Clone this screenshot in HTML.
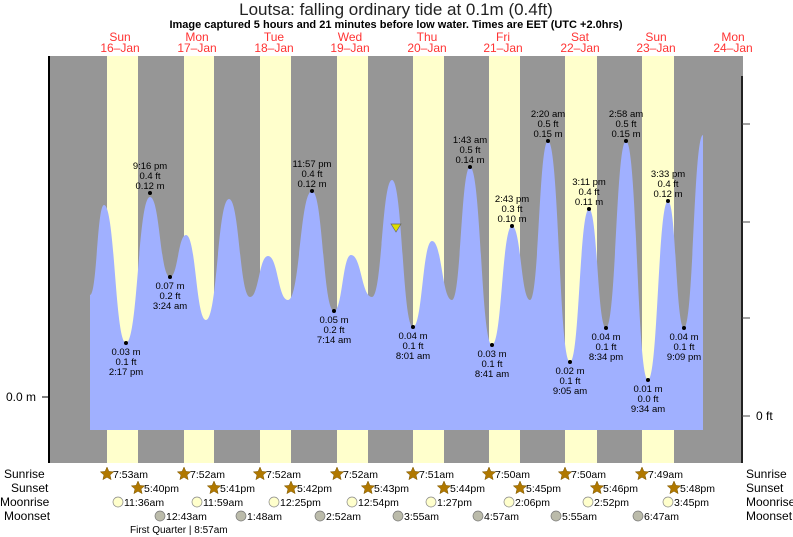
<!DOCTYPE html>
<html><head><meta charset="utf-8"><style>
body{margin:0;background:#fff;}
svg{display:block;font-family:"Liberation Sans",sans-serif;}
</style></head><body>
<svg width="793" height="537" viewBox="0 0 793 537" xmlns="http://www.w3.org/2000/svg">
<rect x="49" y="56" width="694" height="407" fill="#969696"/>
<g fill="#ffffcc">
<rect x="107" y="56" width="31" height="407"/>
<rect x="184" y="56" width="30" height="407"/>
<rect x="260" y="56" width="31" height="407"/>
<rect x="337" y="56" width="31" height="407"/>
<rect x="413" y="56" width="31" height="407"/>
<rect x="489" y="56" width="31" height="407"/>
<rect x="565" y="56" width="32" height="407"/>
<rect x="642" y="56" width="32" height="407"/>
</g>
<path fill="#a0b0ff" d="M90,430 L90,295 C97,295 97,205 104,205 C115,205 115,343 126,343 C138,343 138,197 150,197 C160,197 160,277 170,277 C178,277 178,235 186,235 C196,235 196,320 206,320 C217.5,320 217.5,199 229,199 C239.5,199 239.5,297 250,297 C259,297 259,256 268,256 C278,256 278,300 288,300 C300,300 300,191 312,191 C323,191 323,311 334,311 C342.5,311 342.5,255 351,255 C361.5,255 361.5,297 372,297 C382,297 382,180 392,180 C402.5,180 402.5,327 413,327 C422.5,327 422.5,241 432,241 C442,241 442,300 452,300 C461,300 461,167 470,167 C481,167 481,345 492,345 C502,345 502,226 512,226 C521,226 521,300 530,300 C539,300 539,141 548,141 C559,141 559,362 570,362 C579.5,362 579.5,209 589,209 C597.5,209 597.5,328 606,328 C616,328 616,141 626,141 C637,141 637,380 648,380 C658,380 658,201 668,201 C676,201 676,328 684,328 C693.5,328 693.5,135 703,135 L703,430 Z"/>
<line x1="49" y1="56" x2="49" y2="463" stroke="#000" stroke-width="2"/>
<line x1="742" y1="76" x2="742" y2="463" stroke="#222" stroke-width="2"/>
<line x1="42" y1="397" x2="49" y2="397" stroke="#000"/>
<g stroke="#444"><line x1="742" y1="124" x2="750" y2="124"/><line x1="742" y1="222" x2="750" y2="222"/><line x1="742" y1="318" x2="750" y2="318"/><line x1="742" y1="416" x2="750" y2="416"/></g>
<text x="6" y="401" font-size="12">0.0 m</text>
<text x="756" y="420" font-size="12">0 ft</text>
<text x="396" y="15" font-size="17" text-anchor="middle" fill="#222">Loutsa: falling  ordinary tide at 0.1m (0.4ft)</text>
<text x="396" y="28" font-size="11" font-weight="bold" text-anchor="middle">Image captured 5 hours and 21 minutes before low water. Times are EET (UTC +2.0hrs)</text>
<g fill="#ff3333" font-size="12" text-anchor="middle">
<text x="120" y="41">Sun</text><text x="120" y="52">16–Jan</text>
<text x="197" y="41">Mon</text><text x="197" y="52">17–Jan</text>
<text x="274" y="41">Tue</text><text x="274" y="52">18–Jan</text>
<text x="350" y="41">Wed</text><text x="350" y="52">19–Jan</text>
<text x="427" y="41">Thu</text><text x="427" y="52">20–Jan</text>
<text x="503" y="41">Fri</text><text x="503" y="52">21–Jan</text>
<text x="580" y="41">Sat</text><text x="580" y="52">22–Jan</text>
<text x="656" y="41">Sun</text><text x="656" y="52">23–Jan</text>
<text x="733" y="41">Mon</text><text x="733" y="52">24–Jan</text>
</g>
<polygon points="391,224 401,224 396,232" fill="#dddd00" stroke="#666" stroke-width="0.7"/>
<g fill="#000">
<circle cx="126" cy="343" r="2"/><circle cx="150" cy="193" r="2"/><circle cx="170" cy="277" r="2"/><circle cx="312" cy="191" r="2"/><circle cx="334" cy="311" r="2"/><circle cx="413" cy="327" r="2"/><circle cx="470" cy="167" r="2"/><circle cx="492" cy="345" r="2"/><circle cx="512" cy="226" r="2"/><circle cx="548" cy="141" r="2"/><circle cx="570" cy="362" r="2"/><circle cx="589" cy="209" r="2"/><circle cx="606" cy="328" r="2"/><circle cx="626" cy="141" r="2"/><circle cx="648" cy="380" r="2"/><circle cx="668" cy="201" r="2"/><circle cx="684" cy="328" r="2"/>
</g>
<g font-size="9.5" text-anchor="middle" fill="#000">
<text x="126" y="355">0.03 m</text><text x="126" y="365">0.1 ft</text><text x="126" y="375">2:17 pm</text>
<text x="150" y="169">9:16 pm</text><text x="150" y="179">0.4 ft</text><text x="150" y="189">0.12 m</text>
<text x="170" y="289">0.07 m</text><text x="170" y="299">0.2 ft</text><text x="170" y="309">3:24 am</text>
<text x="312" y="167">11:57 pm</text><text x="312" y="177">0.4 ft</text><text x="312" y="187">0.12 m</text>
<text x="334" y="323">0.05 m</text><text x="334" y="333">0.2 ft</text><text x="334" y="343">7:14 am</text>
<text x="413" y="339">0.04 m</text><text x="413" y="349">0.1 ft</text><text x="413" y="359">8:01 am</text>
<text x="470" y="143">1:43 am</text><text x="470" y="153">0.5 ft</text><text x="470" y="163">0.14 m</text>
<text x="492" y="357">0.03 m</text><text x="492" y="367">0.1 ft</text><text x="492" y="377">8:41 am</text>
<text x="512" y="202">2:43 pm</text><text x="512" y="212">0.3 ft</text><text x="512" y="222">0.10 m</text>
<text x="548" y="117">2:20 am</text><text x="548" y="127">0.5 ft</text><text x="548" y="137">0.15 m</text>
<text x="570" y="374">0.02 m</text><text x="570" y="384">0.1 ft</text><text x="570" y="394">9:05 am</text>
<text x="589" y="185">3:11 pm</text><text x="589" y="195">0.4 ft</text><text x="589" y="205">0.11 m</text>
<text x="606" y="340">0.04 m</text><text x="606" y="350">0.1 ft</text><text x="606" y="360">8:34 pm</text>
<text x="626" y="117">2:58 am</text><text x="626" y="127">0.5 ft</text><text x="626" y="137">0.15 m</text>
<text x="648" y="392">0.01 m</text><text x="648" y="402">0.0 ft</text><text x="648" y="412">9:34 am</text>
<text x="668" y="177">3:33 pm</text><text x="668" y="187">0.4 ft</text><text x="668" y="197">0.12 m</text>
<text x="684" y="340">0.04 m</text><text x="684" y="350">0.1 ft</text><text x="684" y="360">9:09 pm</text>
</g>
<g font-size="12" fill="#000">
<text x="4" y="478">Sunrise</text><text x="11" y="492">Sunset</text><text x="0" y="506">Moonrise</text><text x="4" y="520">Moonset</text>
<text x="746" y="478">Sunrise</text><text x="746" y="492">Sunset</text><text x="746" y="506">Moonrise</text><text x="746" y="520">Moonset</text>
</g>
<g fill="#b07800" stroke="#7a5500" stroke-width="0.5">
<polygon transform="translate(107,474)" points="0,-7 1.88,-2.59 6.66,-2.16 3.04,0.99 4.11,5.66 0,3.2 -4.11,5.66 -3.04,0.99 -6.66,-2.16 -1.88,-2.59"/>
<polygon transform="translate(184,474)" points="0,-7 1.88,-2.59 6.66,-2.16 3.04,0.99 4.11,5.66 0,3.2 -4.11,5.66 -3.04,0.99 -6.66,-2.16 -1.88,-2.59"/>
<polygon transform="translate(260,474)" points="0,-7 1.88,-2.59 6.66,-2.16 3.04,0.99 4.11,5.66 0,3.2 -4.11,5.66 -3.04,0.99 -6.66,-2.16 -1.88,-2.59"/>
<polygon transform="translate(337,474)" points="0,-7 1.88,-2.59 6.66,-2.16 3.04,0.99 4.11,5.66 0,3.2 -4.11,5.66 -3.04,0.99 -6.66,-2.16 -1.88,-2.59"/>
<polygon transform="translate(413,474)" points="0,-7 1.88,-2.59 6.66,-2.16 3.04,0.99 4.11,5.66 0,3.2 -4.11,5.66 -3.04,0.99 -6.66,-2.16 -1.88,-2.59"/>
<polygon transform="translate(489,474)" points="0,-7 1.88,-2.59 6.66,-2.16 3.04,0.99 4.11,5.66 0,3.2 -4.11,5.66 -3.04,0.99 -6.66,-2.16 -1.88,-2.59"/>
<polygon transform="translate(565,474)" points="0,-7 1.88,-2.59 6.66,-2.16 3.04,0.99 4.11,5.66 0,3.2 -4.11,5.66 -3.04,0.99 -6.66,-2.16 -1.88,-2.59"/>
<polygon transform="translate(642,474)" points="0,-7 1.88,-2.59 6.66,-2.16 3.04,0.99 4.11,5.66 0,3.2 -4.11,5.66 -3.04,0.99 -6.66,-2.16 -1.88,-2.59"/>
<polygon transform="translate(138,488)" points="0,-7 1.88,-2.59 6.66,-2.16 3.04,0.99 4.11,5.66 0,3.2 -4.11,5.66 -3.04,0.99 -6.66,-2.16 -1.88,-2.59"/>
<polygon transform="translate(214,488)" points="0,-7 1.88,-2.59 6.66,-2.16 3.04,0.99 4.11,5.66 0,3.2 -4.11,5.66 -3.04,0.99 -6.66,-2.16 -1.88,-2.59"/>
<polygon transform="translate(291,488)" points="0,-7 1.88,-2.59 6.66,-2.16 3.04,0.99 4.11,5.66 0,3.2 -4.11,5.66 -3.04,0.99 -6.66,-2.16 -1.88,-2.59"/>
<polygon transform="translate(368,488)" points="0,-7 1.88,-2.59 6.66,-2.16 3.04,0.99 4.11,5.66 0,3.2 -4.11,5.66 -3.04,0.99 -6.66,-2.16 -1.88,-2.59"/>
<polygon transform="translate(444,488)" points="0,-7 1.88,-2.59 6.66,-2.16 3.04,0.99 4.11,5.66 0,3.2 -4.11,5.66 -3.04,0.99 -6.66,-2.16 -1.88,-2.59"/>
<polygon transform="translate(520,488)" points="0,-7 1.88,-2.59 6.66,-2.16 3.04,0.99 4.11,5.66 0,3.2 -4.11,5.66 -3.04,0.99 -6.66,-2.16 -1.88,-2.59"/>
<polygon transform="translate(597,488)" points="0,-7 1.88,-2.59 6.66,-2.16 3.04,0.99 4.11,5.66 0,3.2 -4.11,5.66 -3.04,0.99 -6.66,-2.16 -1.88,-2.59"/>
<polygon transform="translate(674,488)" points="0,-7 1.88,-2.59 6.66,-2.16 3.04,0.99 4.11,5.66 0,3.2 -4.11,5.66 -3.04,0.99 -6.66,-2.16 -1.88,-2.59"/>
</g>
<g fill="#ffffcc" stroke="#888" stroke-width="0.7">
<circle cx="118" cy="502" r="5"/><circle cx="197" cy="502" r="5"/><circle cx="274" cy="502" r="5"/><circle cx="352" cy="502" r="5"/><circle cx="431" cy="502" r="5"/><circle cx="509" cy="502" r="5"/><circle cx="588" cy="502" r="5"/><circle cx="668" cy="502" r="5"/>
</g>
<g fill="#bbbbaa" stroke="#777" stroke-width="0.7">
<circle cx="160" cy="516" r="5"/><circle cx="241" cy="516" r="5"/><circle cx="320" cy="516" r="5"/><circle cx="398" cy="516" r="5"/><circle cx="478" cy="516" r="5"/><circle cx="556" cy="516" r="5"/><circle cx="638" cy="516" r="5"/>
</g>
<g font-size="10.5" fill="#000">
<text x="113" y="478">7:53am</text><text x="190" y="478">7:52am</text><text x="266" y="478">7:52am</text><text x="343" y="478">7:52am</text><text x="419" y="478">7:51am</text><text x="495" y="478">7:50am</text><text x="571" y="478">7:50am</text><text x="648" y="478">7:49am</text>
<text x="144" y="492">5:40pm</text><text x="220" y="492">5:41pm</text><text x="297" y="492">5:42pm</text><text x="374" y="492">5:43pm</text><text x="450" y="492">5:44pm</text><text x="526" y="492">5:45pm</text><text x="603" y="492">5:46pm</text><text x="680" y="492">5:48pm</text>
<text x="124" y="506">11:36am</text><text x="203" y="506">11:59am</text><text x="280" y="506">12:25pm</text><text x="358" y="506">12:54pm</text><text x="437" y="506">1:27pm</text><text x="515" y="506">2:06pm</text><text x="594" y="506">2:52pm</text><text x="674" y="506">3:45pm</text>
<text x="166" y="520">12:43am</text><text x="247" y="520">1:48am</text><text x="326" y="520">2:52am</text><text x="404" y="520">3:55am</text><text x="484" y="520">4:57am</text><text x="562" y="520">5:55am</text><text x="644" y="520">6:47am</text>
</g>
<text x="130" y="533" font-size="10">First Quarter | 8:57am</text>
</svg>
</body></html>
